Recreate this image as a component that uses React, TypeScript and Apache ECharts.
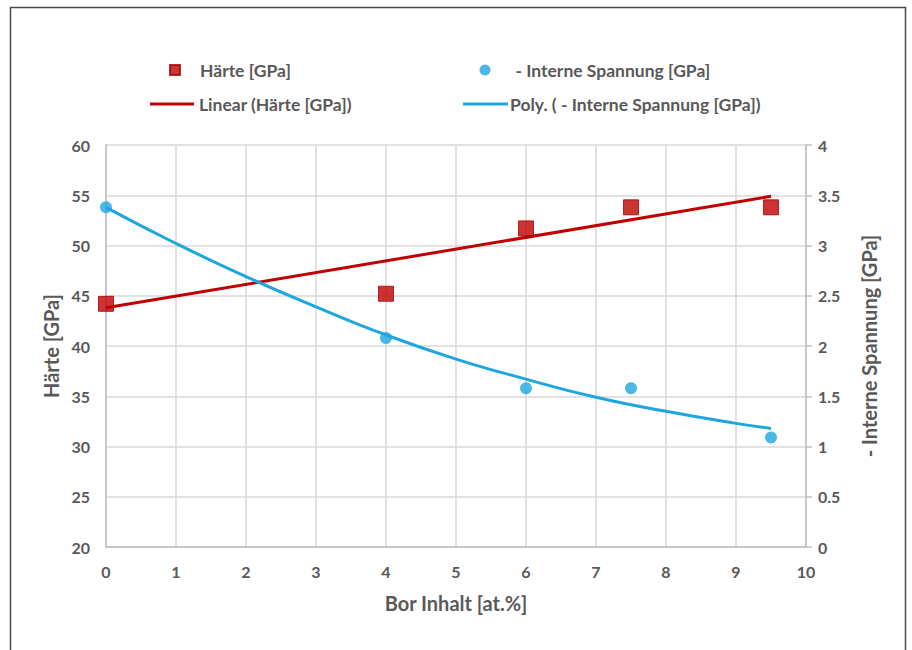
import React, { useEffect, useRef } from "react";
import * as echarts from "echarts";

const borContent = [0, 4, 6, 7.5, 9.5];
const haerte = [44.2, 45.2, 51.7, 53.8, 53.8];
const spannung = [3.38, 2.08, 1.58, 1.58, 1.09];

const linearTrendX = [0, 9.5];
const linearTrendY = [43.8, 54.9];

const polyTrendX = [0, 1, 2, 3, 4, 5, 6, 7, 8, 9, 9.5];
const polyTrendY = [3.38, 3.02, 2.69, 2.39, 2.11, 1.87, 1.67, 1.49, 1.35, 1.23, 1.18];

const FONT = "Lato";
const TXT = "#595959";
const RED = "#C00000";
const BLUE = "#1EA7DF";

export default function App() {
  const ref = useRef<HTMLDivElement>(null);
  useEffect(() => {
    if (!ref.current) return;
    const chart = echarts.init(ref.current, undefined, { renderer: "svg" });
    const zip = (xs: number[], ys: number[]) => xs.map((x, i) => [x, ys[i]]);
    const legendText = { fontFamily: FONT, fontWeight: "bold", fontSize: 17.5, color: TXT };
    const titleStyle = { fontFamily: FONT, fontWeight: "bold", fontSize: 20, color: TXT };
    const tickStyle = { fontFamily: FONT, fontWeight: "bold", fontSize: 16, color: TXT };
    chart.setOption({
      animation: false,
      backgroundColor: "#fff",
      graphic: [
        {
          type: "rect",
          shape: { x: 10.5, y: 7.5, width: 895, height: 700 },
          style: { fill: "none", stroke: "#4a4a4a", lineWidth: 1.5 },
          silent: true,
        },
      ],
      legend: [
        {
          data: [{ name: "Härte [GPa]", icon: "rect" }],
          left: 164, top: 56, itemWidth: 10, itemHeight: 10,
          textStyle: { ...legendText, padding: [0, 0, 0, 15] },
        },
        {
          data: [{ name: "- Interne Spannung [GPa]", icon: "circle" }],
          left: 474.5, top: 56, itemWidth: 11, itemHeight: 11,
          textStyle: { ...legendText, padding: [0, 0, 0, 20] },
        },
        {
          data: [{ name: "Linear (Härte [GPa])", icon: "rect" }],
          left: 145, top: 90, itemWidth: 44, itemHeight: 3,
          textStyle: { ...legendText, padding: [0, 0, 0, 0] },
        },
        {
          data: [{ name: "Poly. ( - Interne Spannung [GPa])", icon: "rect" }],
          left: 458, top: 90, itemWidth: 45, itemHeight: 3,
          textStyle: { ...legendText, padding: [0, 0, 0, -3] },
        },
      ],
      grid: { left: 106, right: 106, top: 145, bottom: 103, containLabel: false },
      xAxis: {
        type: "value",
        min: 0, max: 10, interval: 1,
        name: "Bor Inhalt [at.%]",
        nameLocation: "middle",
        nameGap: 46,
        nameTextStyle: titleStyle,
        axisLine: { lineStyle: { color: "#bfbfbf", width: 1.5 } },
        axisTick: { show: false },
        axisLabel: { ...tickStyle, margin: 16 },
        splitLine: { show: true, lineStyle: { color: "#d9d9d9", width: 1.5 } },
      },
      yAxis: [
        {
          type: "value",
          min: 20, max: 60, interval: 5,
          name: "Härte [GPa]",
          nameLocation: "middle",
          nameRotate: 90,
          nameGap: 45,
          nameTextStyle: titleStyle,
          axisLine: { show: true, lineStyle: { color: "#bfbfbf", width: 1.5 } },
          axisTick: { show: false },
          axisLabel: { ...tickStyle, margin: 16 },
          splitLine: { show: true, lineStyle: { color: "#d9d9d9", width: 1.5 } },
        },
        {
          type: "value",
          position: "right",
          min: 0, max: 4, interval: 0.5,
          name: "- Interne Spannung [GPa]",
          nameLocation: "middle",
          nameRotate: 90,
          nameGap: 53,
          nameTextStyle: titleStyle,
          axisLine: { show: true, lineStyle: { color: "#bfbfbf", width: 1.5 } },
          axisTick: { show: true, inside: false, length: 6, lineStyle: { color: "#bfbfbf", width: 1.5 } },
          axisLabel: { ...tickStyle, margin: 12 },
          splitLine: { show: false },
        },
      ],
      series: [
        {
          name: "Linear (Härte [GPa])",
          type: "line",
          yAxisIndex: 0,
          data: zip(linearTrendX, linearTrendY),
          showSymbol: false,
          lineStyle: { color: RED, width: 3 },
          itemStyle: { color: RED },
          z: 2,
        },
        {
          name: "Poly. ( - Interne Spannung [GPa])",
          type: "line",
          yAxisIndex: 1,
          data: zip(polyTrendX, polyTrendY),
          smooth: true,
          showSymbol: false,
          lineStyle: { color: BLUE, width: 3 },
          itemStyle: { color: BLUE },
          z: 2,
        },
        {
          name: "Härte [GPa]",
          type: "scatter",
          yAxisIndex: 0,
          data: zip(borContent, haerte),
          symbol: "rect",
          symbolSize: 15,
          itemStyle: { color: RED, borderColor: "#a00000", borderWidth: 1 },
          z: 3,
        },
        {
          name: "- Interne Spannung [GPa]",
          type: "scatter",
          yAxisIndex: 1,
          data: zip(borContent, spannung),
          symbol: "circle",
          symbolSize: 12,
          itemStyle: { color: BLUE },
          z: 3,
        },
      ],
    });
    return () => chart.dispose();
  }, []);
  return (
    <div
      ref={ref}
      style={{ position: "fixed", left: 0, top: 0, width: 912, height: 650, background: "#fff" }}
    />
  );
}
